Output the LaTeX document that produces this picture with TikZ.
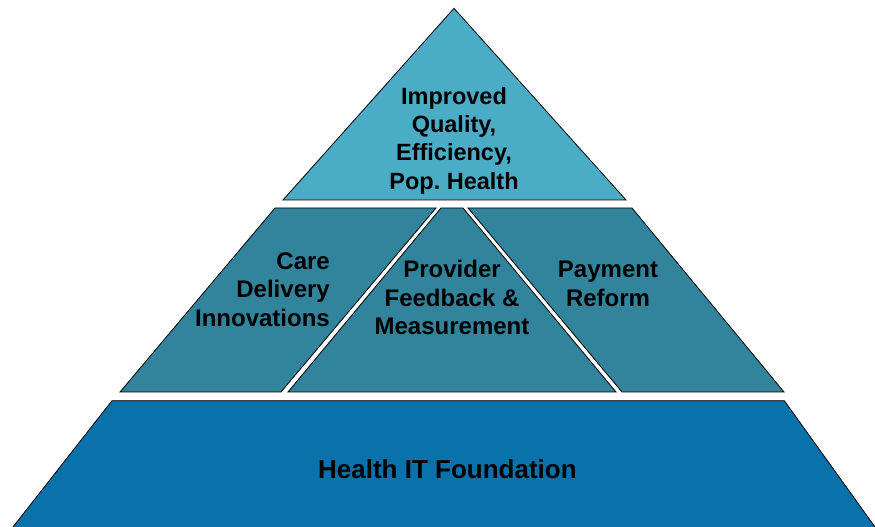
\documentclass[tikz,border=0pt]{standalone}
\usepackage{fontspec}
\setmainfont{Liberation Sans}
\frenchspacing
\definecolor{topc}{HTML}{4BACC6}
\definecolor{midc}{HTML}{31849B}
\definecolor{botc}{HTML}{0A72AA}
\tikzset{
  tier/.style={draw=black, line width=0.8pt, line join=miter},
  lbltop/.style={inner sep=0pt, font=\bfseries\fontsize{23.5}{28.3}\selectfont, text=black},
  lbl/.style={inner sep=0pt, font=\bfseries\fontsize{24}{28.5}\selectfont, text=black},
  lblbig/.style={inner sep=0pt, font=\bfseries\fontsize{26}{30}\selectfont, text=black}
}
\begin{document}
\begin{tikzpicture}[x=1pt,y=1pt]
\useasboundingbox (0,0) rectangle (875,527);
\begin{scope}
\clip (0,0) rectangle (875,527);
% top triangle
\path[tier, fill=topc] (454,518.7) -- (626,327) -- (283,327) -- cycle;
% middle row
\path[tier, fill=midc] (275,319) -- (436,319) -- (281,135) -- (120,135) -- cycle;
\path[tier, fill=midc] (441,319) -- (463,319) -- (616,135) -- (288,135) -- cycle;
\path[tier, fill=midc] (468,319) -- (632,319) -- (784,135) -- (622,135) -- cycle;
% bottom
\path[tier, fill=botc] (112,126.3) -- (784.3,126.3) -- (877.2,-3) -- (10.6,-3) -- cycle;
\end{scope}
% labels
\node[lbltop, align=center] (top) at (454,386.5) {Improved\\Quality,\\Efficiency,\\Pop. Health};
\node[lbl, align=right, anchor=east] (care) at (330,237.4) {Care\\Delivery\\Innovations};
\node[lbl, align=center] (prov) at (452,229.2) {Provider\\Feedback \&\\Measurement};
\node[lbl, align=center] (pay) at (608,242.9) {Payment\\Reform};
\node[lblbig, anchor=base] (hit) at (447.4,48) {Health IT Foundation};
\end{tikzpicture}
\end{document}
